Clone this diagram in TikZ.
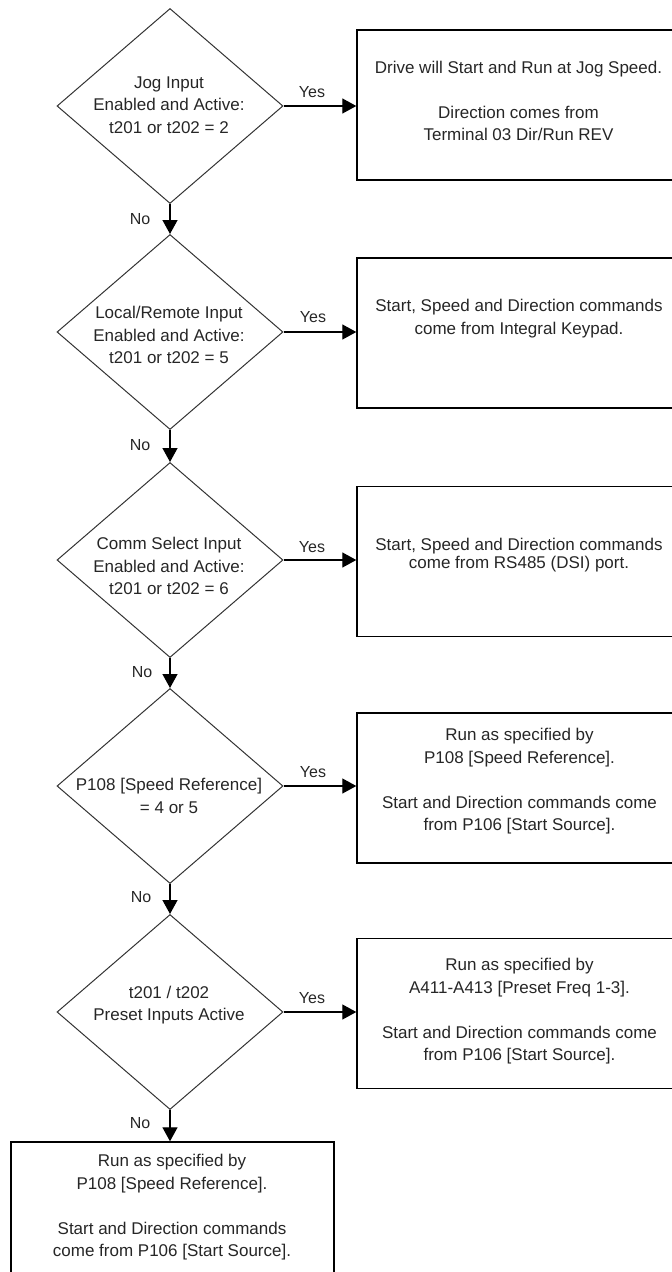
\documentclass[tikz,border=0pt]{standalone}
\usepackage{fontspec}
\setmainfont{Liberation Sans}
\usetikzlibrary{shapes.geometric,arrows.meta}
\begin{document}
\begin{tikzpicture}[x=1pt,y=-1pt,
 dia/.style={diamond,draw=black!80,line width=1pt,minimum width=226pt,minimum height=195pt,inner sep=0pt},
 box/.style={rectangle,draw=black,line width=1.4pt,inner sep=0pt,minimum width=323pt,minimum height=150pt},
 txt/.style={align=center,font=\fontsize{17}{22.5}\selectfont,text=black!85,inner sep=0pt},
 lbl/.style={font=\fontsize{16}{18}\selectfont,text=black!85,inner sep=0pt},
 arr/.style={line width=1.3pt,-{Triangle[length=14pt,width=15pt]}}]
\useasboundingbox (0,0) rectangle (672,1272);
\clip (0,0) rectangle (672,1272);
% decisions
\node[dia] (d1) at (170,106) {};
\node[txt] (t1) at (169,105) {Jog Input\\Enabled and Active:\\t201 or t202 = 2};
\node[dia] (d2) at (170,332) {};
\node[txt] (t2) at (169,335) {Local/Remote Input\\Enabled and Active:\\t201 or t202 = 5};
\node[dia] (d3) at (170,560) {};
\node[txt] (t3) at (169,566) {Comm Select Input\\Enabled and Active:\\t201 or t202 = 6};
\node[dia] (d4) at (170,786) {};
\node[txt] (t4) at (169,796) {P108 [Speed Reference]\\= 4 or 5};
\node[dia] (d5) at (170,1012) {};
\node[txt] (t5) at (169,1005) {t201 / t202\\Preset Inputs Active};
% outcome boxes
\node[box] (b1) at (518.5,105) {};
\node[txt] (bt1) at (518.5,101) {Drive will Start and Run at Jog Speed.\\[22.5pt]Direction comes from\\Terminal 03 Dir/Run REV};
\node[box] (b2) at (518.5,333) {};
\node[txt] (bt2) at (519,318.5) {Start, Speed and Direction commands\\come from Integral Keypad.};
\node[box] (b3) at (518.5,561.5) {};
\node[txt] (bt3) at (519,555) {Start, Speed and Direction commands\\[-5pt]come from RS485 (DSI) port.};
\node[box] (b4) at (518.5,788) {};
\node[txt] (bt4) at (519.5,781.5) {Run as specified by\\P108 [Speed Reference].\\[22.5pt]Start and Direction commands come\\from P106 [Start Source].};
\node[box] (b5) at (518.5,1013.5) {};
\node[txt] (bt5) at (519.5,1011.5) {Run as specified by\\A411-A413 [Preset Freq 1-3].\\[22.5pt]Start and Direction commands come\\from P106 [Start Source].};
\node[box,minimum height=150pt] (b6) at (172.5,1217) {};
\node[txt] (bt6) at (172,1207.5) {Run as specified by\\P108 [Speed Reference].\\[22.5pt]Start and Direction commands\\come from P106 [Start Source].};
% yes connectors
\draw[arr] (d1.east) -- (d1.east -| b1.west);
\draw[arr] (d2.east) -- (d2.east -| b2.west);
\draw[arr] (d3.east) -- (d3.east -| b3.west);
\draw[arr] (d4.east) -- (d4.east -| b4.west);
\draw[arr] (d5.east) -- (d5.east -| b5.west);
\node[lbl] (y1) at (312,92) {Yes};
\node[lbl] (y2) at (313,317) {Yes};
\node[lbl] (y3) at (312,547) {Yes};
\node[lbl] (y4) at (313,772) {Yes};
\node[lbl] (y5) at (312,998) {Yes};
% no connectors
\draw[arr] (d1.south) -- (d2.north);
\draw[arr] (d2.south) -- (d3.north);
\draw[arr] (d3.south) -- (d4.north);
\draw[arr] (d4.south) -- (d5.north);
\draw[arr] (d5.south) -- (d5.south |- b6.north);
\node[lbl] (n1) at (140,219) {No};
\node[lbl] (n2) at (140,445) {No};
\node[lbl] (n3) at (142,672) {No};
\node[lbl] (n4) at (141,897) {No};
\node[lbl] (n5) at (140,1123) {No};
\end{tikzpicture}
\end{document}
